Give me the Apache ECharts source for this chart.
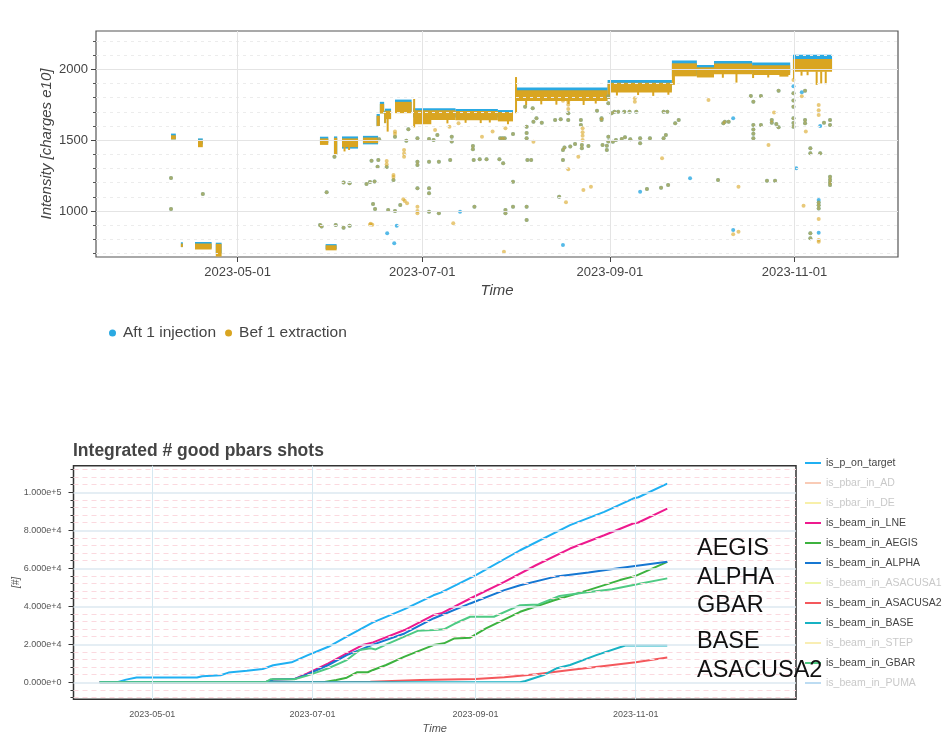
<!DOCTYPE html>
<html>
<head>
<meta charset="utf-8">
<script src="https://cdn.jsdelivr.net/npm/echarts@6/dist/echarts.min.js"></script>
<style>
  html, body { margin: 0; padding: 0; background: #fff; }
  #chart { width: 943px; height: 735px; }
</style>
</head>
<body>
<div id="chart"></div>
<script>
// ---------- Upper panel: beam intensity ----------
const intensityDateTicks = ['2023-05-01', '2023-07-01', '2023-09-01', '2023-11-01'];
const intensityTicks = [1000, 1500, 2000];
const intensityMinorTicks = [700, 800, 900, 1100, 1200, 1300, 1400, 1600, 1700, 1800, 1900, 2100, 2200];

// Dense running periods: [start, end, low, high]
const injectionBands = [
  ['2023-04-09', '2023-04-10 14:00', 1505, 1546],
  ['2023-04-12 06:00', '2023-04-12 18:00', 745, 779],
  ['2023-04-16 22:00', '2023-04-22 10:00', 735, 781],
  ['2023-04-23 19:00', '2023-04-25 17:00', 700, 776],
  ['2023-04-17 22:00', '2023-04-19 12:00', 1470, 1512],
  ['2023-05-28 05:00', '2023-05-30 23:00', 1480, 1524],
  ['2023-05-30 02:00', '2023-06-02 17:00', 730, 766],
  ['2023-06-01 20:00', '2023-06-02 22:00', 1400, 1526],
  ['2023-06-04 12:00', '2023-06-09 19:00', 1440, 1526],
  ['2023-06-11 10:00', '2023-06-16 10:00', 1470, 1530],
  ['2023-06-15 22:00', '2023-06-17', 1600, 1684],
  ['2023-06-17', '2023-06-18 10:00', 1690, 1770],
  ['2023-06-18 10:00', '2023-06-19', 1620, 1708],
  ['2023-06-18 17:00', '2023-06-20 17:00', 1650, 1722],
  ['2023-06-22', '2023-06-27 12:00', 1700, 1786],
  ['2023-06-28', '2023-07-12', 1660, 1724],
  ['2023-07-12', '2023-07-26', 1660, 1720],
  ['2023-07-26', '2023-07-31', 1650, 1712],
  ['2023-07-31 16:00', '2023-08-31 06:00', 1790, 1872],
  ['2023-08-31 06:00', '2023-09-21 12:00', 1850, 1924],
  ['2023-09-21 12:00', '2023-09-29 18:00', 1960, 2062],
  ['2023-09-29 18:00', '2023-10-05 10:00', 1950, 2030],
  ['2023-10-05 10:00', '2023-10-18', 1980, 2058],
  ['2023-10-18', '2023-10-30 14:00', 1975, 2048],
  ['2023-10-31 12:00', '2023-11-13 10:00', 2000, 2102]
];

const extractionBands = [
  ['2023-04-09', '2023-04-10 14:00', 1505, 1534],
  ['2023-04-12 06:00', '2023-04-12 18:00', 745, 770],
  ['2023-04-16 22:00', '2023-04-22 10:00', 728, 770],
  ['2023-04-23 19:00', '2023-04-25 17:00', 678, 768],
  ['2023-04-17 22:00', '2023-04-19 12:00', 1450, 1502],
  ['2023-05-28 05:00', '2023-05-30 23:00', 1466, 1512],
  ['2023-05-30 02:00', '2023-06-02 17:00', 722, 758],
  ['2023-06-01 20:00', '2023-06-02 22:00', 1395, 1516],
  ['2023-06-04 12:00', '2023-06-09 19:00', 1450, 1512],
  ['2023-06-11 10:00', '2023-06-16 10:00', 1478, 1518],
  ['2023-06-15 22:00', '2023-06-17', 1600, 1672],
  ['2023-06-17', '2023-06-18 10:00', 1688, 1756],
  ['2023-06-18 10:00', '2023-06-19', 1620, 1694],
  ['2023-06-18 17:00', '2023-06-20 17:00', 1648, 1708],
  ['2023-06-22', '2023-06-27 12:00', 1690, 1770],
  ['2023-06-28', '2023-06-28 12:00', 1590, 1790],
  ['2023-06-28 12:00', '2023-07-12', 1642, 1710],
  ['2023-07-12', '2023-07-26', 1640, 1706],
  ['2023-07-26', '2023-07-31', 1632, 1698],
  ['2023-07-31 16:00', '2023-08-31 06:00', 1776, 1852],
  ['2023-07-31 16:00', '2023-08-01', 1690, 1945],
  ['2023-08-31 06:00', '2023-09-21 12:00', 1836, 1904],
  ['2023-09-21 12:00', '2023-09-29 18:00', 1950, 2042],
  ['2023-09-29 18:00', '2023-10-05 10:00', 1942, 2014],
  ['2023-10-05 10:00', '2023-10-18', 1964, 2040],
  ['2023-10-18', '2023-10-30 14:00', 1960, 2028],
  ['2023-10-31 12:00', '2023-11-13 10:00', 1982, 2072],
  // short dips below the running level
  ['2023-06-05', '2023-06-05 10:00', 1420, 1460],
  ['2023-06-06 12:00', '2023-06-06 20:00', 1430, 1460],
  ['2023-06-19 06:00', '2023-06-19 18:00', 1560, 1650],
  ['2023-06-28 12:00', '2023-07-04', 1612, 1660],
  ['2023-07-09', '2023-07-09 08:00', 1618, 1650],
  ['2023-07-15', '2023-07-15 08:00', 1622, 1650],
  ['2023-07-20', '2023-07-20 08:00', 1620, 1650],
  ['2023-07-23', '2023-07-23 08:00', 1624, 1650],
  ['2023-07-29', '2023-07-29 08:00', 1612, 1640],
  ['2023-08-04', '2023-08-04 08:00', 1745, 1785],
  ['2023-08-09', '2023-08-09 08:00', 1752, 1785],
  ['2023-08-14', '2023-08-14 08:00', 1750, 1785],
  ['2023-08-18', '2023-08-18 08:00', 1755, 1785],
  ['2023-08-23', '2023-08-23 08:00', 1748, 1785],
  ['2023-08-27', '2023-08-27 08:00', 1758, 1785],
  ['2023-08-31 06:00', '2023-09-01 06:00', 1790, 1846],
  ['2023-09-03', '2023-09-03 08:00', 1815, 1840],
  ['2023-09-10', '2023-09-10 08:00', 1818, 1840],
  ['2023-09-15', '2023-09-15 08:00', 1812, 1840],
  ['2023-09-20', '2023-09-20 08:00', 1820, 1840],
  ['2023-09-21 12:00', '2023-09-22 12:00', 1890, 1958],
  ['2023-10-08', '2023-10-08 08:00', 1940, 1968],
  ['2023-10-12 12:00', '2023-10-12 22:00', 1906, 1970],
  ['2023-10-18', '2023-10-18 08:00', 1938, 1965],
  ['2023-10-23', '2023-10-23 08:00', 1942, 1965],
  ['2023-10-27', '2023-10-30', 1948, 1965],
  ['2023-10-31 12:00', '2023-11-01', 1930, 1990],
  ['2023-11-03', '2023-11-03 08:00', 1955, 1985],
  ['2023-11-05', '2023-11-05 08:00', 1958, 1985],
  ['2023-11-08', '2023-11-08 12:00', 1890, 1985],
  ['2023-11-09 12:00', '2023-11-10', 1900, 1985],
  ['2023-11-11', '2023-11-11 12:00', 1895, 1985]
];

// Isolated shots recorded by both monitors: [time, intensity]
const sharedShots = [
  ['2023-04-09', 1233], ['2023-04-09', 1013], ['2023-04-19 12:00', 1120],
  ['2023-05-28 06:00', 900], ['2023-05-28 18:00', 890], ['2023-05-30 10:00', 1132], ['2023-06-02 10:00', 901], ['2023-06-02', 1383],
  ['2023-06-05', 1200], ['2023-06-05', 882], ['2023-06-07', 1195], ['2023-06-07', 896],
  ['2023-06-12 14:00', 1190], ['2023-06-13 18:00', 1205], ['2023-06-15 06:00', 1208], ['2023-06-14 06:00', 1355], ['2023-06-14 18:00', 1049],
  ['2023-06-15 10:00', 1014], ['2023-06-16 06:00', 1312], ['2023-06-16 12:00', 1360], ['2023-06-16 18:00', 1506],
  ['2023-06-19 06:00', 1310], ['2023-06-19 18:00', 1007], ['2023-06-21 12:00', 1218], ['2023-06-22', 1524], ['2023-06-22', 1000],
  ['2023-06-23 18:00', 1042], ['2023-06-25 18:00', 1496], ['2023-06-26 10:00', 1576],
  ['2023-06-29 10:00', 1513], ['2023-06-29 10:00', 1325], ['2023-06-29 10:00', 1348], ['2023-06-29 10:00', 1160],
  ['2023-07-03 06:00', 1508], ['2023-07-03 06:00', 1348], ['2023-07-03 06:00', 1125], ['2023-07-03 06:00', 1160], ['2023-07-03 06:00', 995],
  ['2023-07-04 18:00', 1500], ['2023-07-06', 1536], ['2023-07-06 12:00', 1348], ['2023-07-06 12:00', 983],
  ['2023-07-10 18:00', 1490], ['2023-07-10 18:00', 1524], ['2023-07-10 06:00', 1360], ['2023-07-17 18:00', 1435], ['2023-07-17 18:00', 1459],
  ['2023-07-18', 1360], ['2023-07-18 06:00', 1030], ['2023-07-20', 1364], ['2023-07-22 06:00', 1364], ['2023-07-26 12:00', 1364],
  ['2023-07-26 18:00', 1513], ['2023-07-27 12:00', 1513], ['2023-07-28 06:00', 1513], ['2023-07-27 18:00', 1336],
  ['2023-07-28 12:00', 1007], ['2023-07-28 12:00', 983], ['2023-07-31', 1543], ['2023-07-31', 1206], ['2023-07-31', 1030],
  ['2023-08-04', 1736], ['2023-08-04 12:00', 1513], ['2023-08-04 12:00', 1550], ['2023-08-04 12:00', 1595], ['2023-08-04 18:00', 1360],
  ['2023-08-04 12:00', 1030], ['2023-08-04 12:00', 936], ['2023-08-06', 1360], ['2023-08-06 12:00', 1725], ['2023-08-06 18:00', 1630],
  ['2023-08-07 18:00', 1654], ['2023-08-09 12:00', 1623], ['2023-08-13 22:00', 1642], ['2023-08-15 18:00', 1647], ['2023-08-18 06:00', 1690],
  ['2023-08-18 06:00', 1642], ['2023-08-16 12:00', 1430], ['2023-08-17', 1447], ['2023-08-18 22:00', 1454], ['2023-08-20 12:00', 1473],
  ['2023-08-22 10:00', 1607], ['2023-08-22 10:00', 1642], ['2023-08-22 18:00', 1442], ['2023-08-22 18:00', 1466], ['2023-08-24 22:00', 1459],
  ['2023-08-16 12:00', 1360], ['2023-08-15 06:00', 1100], ['2023-08-27 18:00', 1708], ['2023-08-29 06:00', 1642], ['2023-08-29 06:00', 1654],
  ['2023-08-29 14:00', 1466],
  ['2023-08-31', 1430], ['2023-08-31', 1460], ['2023-08-31 12:00', 1490], ['2023-08-31 12:00', 1524], ['2023-08-31 12:00', 1760],
  ['2023-08-31 12:00', 1807], ['2023-09-01 14:00', 1690], ['2023-09-02 12:00', 1700], ['2023-09-03 18:00', 1700], ['2023-09-05 18:00', 1700],
  ['2023-09-07 12:00', 1700], ['2023-09-09 18:00', 1700], ['2023-09-02', 1489], ['2023-09-03', 1500], ['2023-09-04 22:00', 1508],
  ['2023-09-06', 1520], ['2023-09-07 18:00', 1506], ['2023-09-11', 1478], ['2023-09-11', 1513], ['2023-09-14 06:00', 1513],
  ['2023-09-13 06:00', 1155], ['2023-09-17 22:00', 1164], ['2023-09-20 06:00', 1183], ['2023-09-18 18:00', 1513], ['2023-09-19 12:00', 1536],
  ['2023-09-18 18:00', 1700], ['2023-09-20', 1700], ['2023-09-22 14:00', 1619], ['2023-09-23 18:00', 1642],
  ['2023-10-06 18:00', 1218], ['2023-10-08 12:00', 1619], ['2023-10-09', 1630], ['2023-10-10 06:00', 1630], ['2023-10-17 14:00', 1811],
  ['2023-10-18 10:00', 1771], ['2023-10-20 22:00', 1811], ['2023-10-18 10:00', 1513], ['2023-10-18 10:00', 1545], ['2023-10-18 10:00', 1575],
  ['2023-10-18 10:00', 1607], ['2023-10-20 22:00', 1607], ['2023-10-22 22:00', 1214], ['2023-10-25 14:00', 1214], ['2023-10-24 12:00', 1623],
  ['2023-10-24 12:00', 1642], ['2023-10-26', 1614], ['2023-10-26 18:00', 1590], ['2023-10-26 18:00', 1849],
  ['2023-10-31 16:00', 1736], ['2023-10-31 16:00', 1780], ['2023-10-31 16:00', 1830], ['2023-10-31 16:00', 1595], ['2023-10-31 16:00', 1620],
  ['2023-10-31 16:00', 1654], ['2023-11-04 12:00', 1849], ['2023-11-04 12:00', 1619], ['2023-11-04 12:00', 1642], ['2023-11-06 06:00', 1407],
  ['2023-11-06 06:00', 1442], ['2023-11-06 06:00', 807], ['2023-11-06 06:00', 843], ['2023-11-09 12:00', 1407], ['2023-11-09', 1018],
  ['2023-11-09', 1040], ['2023-11-09', 1060], ['2023-11-10 18:00', 1623], ['2023-11-12 18:00', 1607], ['2023-11-12 18:00', 1642],
  ['2023-11-12 18:00', 1183], ['2023-11-12 18:00', 1200], ['2023-11-12 18:00', 1220], ['2023-11-12 18:00', 1242]
];

const injectionOnlyShots = [
  ['2023-06-19 10:00', 842], ['2023-06-21 18:00', 772], ['2023-06-22 14:00', 896], ['2023-07-13 12:00', 995], ['2023-08-16 12:00', 760],
  ['2023-09-11', 1136], ['2023-09-27 12:00', 1230], ['2023-10-11 18:00', 1654], ['2023-10-11 18:00', 866], ['2023-10-31 16:00', 1880],
  ['2023-11-01 14:00', 1301], ['2023-11-03 10:00', 1838], ['2023-11-09 12:00', 1600], ['2023-11-09', 1077], ['2023-11-09', 847]
];

const extractionOnlyShots = [
  ['2023-06-13 18:00', 905], ['2023-06-14', 910], ['2023-06-14 12:00', 902], ['2023-06-19 06:00', 1330], ['2023-06-19 06:00', 1352],
  ['2023-06-21 12:00', 1240], ['2023-06-21 12:00', 1254], ['2023-06-22', 1545], ['2023-06-22', 1560], ['2023-06-24 18:00', 1082],
  ['2023-06-25 06:00', 1070], ['2023-06-26', 1054], ['2023-06-25', 1430], ['2023-06-25', 1405], ['2023-06-25', 1383],
  ['2023-06-29 10:00', 983], ['2023-06-29 10:00', 1000], ['2023-06-29 10:00', 1030], ['2023-07-05 06:00', 1571], ['2023-07-10', 1595],
  ['2023-07-11 06:00', 913], ['2023-07-13', 1619], ['2023-07-20 18:00', 1524], ['2023-07-24 06:00', 1560], ['2023-07-28 12:00', 1583],
  ['2023-07-28', 712], ['2023-08-06 18:00', 1489], ['2023-08-16 12:00', 1778], ['2023-08-18 06:00', 1720], ['2023-08-18 06:00', 1750],
  ['2023-08-18 06:00', 1771], ['2023-08-23', 1500], ['2023-08-23', 1530], ['2023-08-23', 1555], ['2023-08-23', 1583],
  ['2023-08-23 06:00', 1148], ['2023-08-25 18:00', 1171], ['2023-08-21 14:00', 1383], ['2023-08-17 12:00', 1061], ['2023-08-18 06:00', 1294],
  ['2023-09-09 06:00', 1771], ['2023-09-09 06:00', 1795], ['2023-09-18 06:00', 1372], ['2023-10-03 14:00', 1783], ['2023-10-13 12:00', 1171],
  ['2023-10-11 18:00', 835], ['2023-10-13 12:00', 853], ['2023-10-23 10:00', 1466], ['2023-10-25 06:00', 1694], ['2023-10-31 16:00', 1924],
  ['2023-11-03 10:00', 1810], ['2023-11-04 18:00', 1560], ['2023-11-04', 1037], ['2023-11-09', 1677], ['2023-11-09', 1710],
  ['2023-11-09', 1748], ['2023-11-09', 943], ['2023-11-09', 783], ['2023-11-09', 795]
];

// ---------- Lower panel: integrated good shots ----------
const shotDateTicks = ['2023-05-01', '2023-07-01', '2023-09-01', '2023-11-01'];
const shotTicks = [0, 20000, 40000, 60000, 80000, 100000];
const shotMinorTicks = [-8000, -4000, 4000, 8000, 12000, 16000, 24000, 28000, 32000, 36000, 44000, 48000, 52000, 56000,
  64000, 68000, 72000, 76000, 84000, 88000, 92000, 96000, 104000, 108000, 112000];

const shotSeriesNames = ['is_p_on_target', 'is_pbar_in_AD', 'is_pbar_in_DE', 'is_beam_in_LNE', 'is_beam_in_AEGIS',
  'is_beam_in_ALPHA', 'is_beam_in_ASACUSA1', 'is_beam_in_ASACUSA2', 'is_beam_in_BASE', 'is_beam_in_STEP',
  'is_beam_in_GBAR', 'is_beam_in_PUMA'];
const hiddenSeries = ['is_pbar_in_AD', 'is_pbar_in_DE', 'is_beam_in_ASACUSA1', 'is_beam_in_STEP', 'is_beam_in_PUMA'];

const pOnTarget = [['2023-04-11', 0], ['2023-04-18', 200], ['2023-04-21', 1400], ['2023-04-25', 2500], ['2023-05-18', 2500],
  ['2023-05-20', 3200], ['2023-05-27', 3700], ['2023-05-30', 5100], ['2023-06-06', 6100], ['2023-06-12', 7000], ['2023-06-16', 9000],
  ['2023-06-23', 10500], ['2023-06-29', 14200], ['2023-07-07', 18700], ['2023-07-14', 24000], ['2023-07-24', 31500],
  ['2023-08-05', 38500], ['2023-08-16', 45800], ['2023-08-19', 47300], ['2023-09-01', 56300], ['2023-09-18', 69500],
  ['2023-10-07', 82700], ['2023-10-20', 89700], ['2023-10-31', 96700], ['2023-11-02', 97400], ['2023-11-13', 104600]];
const beamLNE = [['2023-04-11', 0], ['2023-06-13', 0], ['2023-06-16', 1500], ['2023-06-24', 1700], ['2023-06-29', 4700],
  ['2023-07-07', 10000], ['2023-07-14', 15200], ['2023-07-20', 19600], ['2023-07-24', 21000], ['2023-08-05', 27500],
  ['2023-08-16', 35400], ['2023-08-19', 36300], ['2023-08-30', 44100], ['2023-09-12', 52900], ['2023-09-24', 61600],
  ['2023-10-07', 70400], ['2023-10-20', 77400], ['2023-10-31', 83600], ['2023-11-02', 84100], ['2023-11-13', 91400]];
const beamAEGIS = [['2023-04-11', 0], ['2023-07-05', 0], ['2023-07-10', 1200], ['2023-07-14', 2400], ['2023-07-18', 5300],
  ['2023-07-22', 5300], ['2023-07-24', 6500], ['2023-07-29', 9100], ['2023-08-05', 13500], ['2023-08-16', 19600],
  ['2023-08-20', 20500], ['2023-08-24', 23100], ['2023-08-30', 23500], ['2023-09-05', 28400], ['2023-09-18', 37100],
  ['2023-10-01', 43200], ['2023-10-14', 48500], ['2023-10-26', 53800], ['2023-11-01', 56000], ['2023-11-13', 63400]];
const beamALPHA = [['2023-04-11', 0], ['2023-06-13', 0], ['2023-06-16', 1500], ['2023-06-24', 1700], ['2023-06-29', 4200],
  ['2023-07-07', 9100], ['2023-07-14', 14300], ['2023-07-24', 19800], ['2023-08-05', 25700], ['2023-08-16', 33600],
  ['2023-08-30', 41500], ['2023-09-12', 48500], ['2023-09-18', 51100], ['2023-10-01', 55500], ['2023-10-14', 57800],
  ['2023-10-26', 60200], ['2023-11-13', 63400]];
const beamASACUSA2 = [['2023-04-11', 0], ['2023-07-12', 0], ['2023-07-23', 300], ['2023-08-11', 1200], ['2023-09-01', 1700],
  ['2023-09-12', 2600], ['2023-09-24', 4200], ['2023-10-07', 6500], ['2023-10-20', 8600], ['2023-11-01', 10500], ['2023-11-13', 13100]];
const beamBASE = [['2023-04-11', 0], ['2023-09-18', 0], ['2023-09-20', 700], ['2023-09-27', 3800], ['2023-10-02', 7400],
  ['2023-10-07', 9100], ['2023-10-17', 14300], ['2023-10-28', 19400], ['2023-11-13', 19400]];
const beamGBAR = [['2023-04-11', 0], ['2023-06-13', 0], ['2023-06-15', 1600], ['2023-06-24', 1600], ['2023-06-29', 3500],
  ['2023-07-07', 7400], ['2023-07-14', 11700], ['2023-07-19', 17000], ['2023-07-23', 17900], ['2023-07-25', 17300],
  ['2023-07-30', 20500], ['2023-08-10', 27100], ['2023-08-16', 27500], ['2023-08-20', 27900], ['2023-08-24', 30800],
  ['2023-08-30', 34500], ['2023-09-08', 34500], ['2023-09-18', 40600], ['2023-09-25', 41000], ['2023-10-03', 45400],
  ['2023-10-12', 47100], ['2023-10-23', 49000], ['2023-11-02', 51700], ['2023-11-13', 54700]];

const experimentLabels = ['AEGIS', 'ALPHA', 'GBAR', 'BASE', 'ASACUSA2'];

// ---------- build ----------
const FONT = '"Liberation Sans", Arial, Helvetica, sans-serif';
const T = s => echarts.time.parse(s);
const fmtDate = v => echarts.time.format(v, '{yyyy}-{MM}-{dd}', false);
const toPoints = rows => rows.map(r => [T(r[0]), r[1]]);
const toBands = rows => rows.map(r => [T(r[0]), T(r[1]), r[2], r[3]]);

const shotValues = {
  is_p_on_target: pOnTarget, is_beam_in_LNE: beamLNE, is_beam_in_AEGIS: beamAEGIS, is_beam_in_ALPHA: beamALPHA,
  is_beam_in_ASACUSA2: beamASACUSA2, is_beam_in_BASE: beamBASE, is_beam_in_GBAR: beamGBAR
};
const shotColors = {
  is_p_on_target: '#20b0f2', is_pbar_in_AD: '#f9cbb6', is_pbar_in_DE: '#f8f0aa', is_beam_in_LNE: '#ee1a8e',
  is_beam_in_AEGIS: '#3db23f', is_beam_in_ALPHA: '#1677d2', is_beam_in_ASACUSA1: '#eef7aa', is_beam_in_ASACUSA2: '#f4585c',
  is_beam_in_BASE: '#17b2c3', is_beam_in_STEP: '#f9eeb4', is_beam_in_GBAR: '#4fca84', is_beam_in_PUMA: '#bddcf2'
};

function renderBand(params, api) {
  const p0 = api.coord([api.value(0), api.value(3)]);
  const p1 = api.coord([api.value(1), api.value(2)]);
  return {
    type: 'rect',
    shape: { x: p0[0], y: p0[1], width: Math.max(p1[0] - p0[0], 2), height: Math.max(p1[1] - p0[1], 1.5) },
    style: { fill: api.visual('color') }
  };
}
const bandDims = ['start', 'end', 'low', 'high'];

const BLUE = '#2aa9e2', GOLD = '#d9a521';

const topGridLines = []
  .concat(intensityTicks.map(v => ({ yAxis: v, lineStyle: { color: '#e4e4e4', width: 1, type: 'solid' } })))
  .concat(intensityMinorTicks.map(v => ({ yAxis: v, lineStyle: { color: '#ececec', width: 1, type: [3, 4] } })))
  .concat(intensityDateTicks.map(d => ({ xAxis: T(d), lineStyle: { color: '#e4e4e4', width: 1, type: 'solid' } })));

const bottomGridLines = []
  .concat(shotMinorTicks.map(v => ({ yAxis: v, lineStyle: { color: '#fbd9df', width: 1, type: [5, 4] } })))
  .concat(shotTicks.map(v => ({ yAxis: v, lineStyle: { color: '#dce8f1', width: 1.5, type: 'solid' } })))
  .concat(shotDateTicks.map(d => ({ xAxis: T(d), lineStyle: { color: '#d6e8f1', width: 1, type: 'solid' } })));

const gridLineSeries = (xi, yi, lines) => ({
  type: 'line', xAxisIndex: xi, yAxisIndex: yi, data: [], silent: true, animation: false,
  markLine: { silent: true, symbol: ['none', 'none'], label: { show: false }, animation: false, data: lines }
});

const lineSeries = shotSeriesNames.map(name => ({
  name, type: 'line', xAxisIndex: 1, yAxisIndex: 2, showSymbol: false, animation: false,
  color: shotColors[name], lineStyle: { width: 2, color: shotColors[name] },
  data: toPoints(shotValues[name] || [])
}));

const option = {
  backgroundColor: '#fff',
  animation: false,
  textStyle: { fontFamily: FONT },
  title: {
    text: 'Integrated # good pbars shots', left: 73, top: 442, padding: 0,
    textStyle: { fontSize: 17.5, fontWeight: 'bold', color: '#444', fontFamily: FONT }
  },
  grid: [
    { left: 96, top: 31, width: 802, height: 226, outerBoundsMode: 'none', containLabel: false,
      show: true, borderColor: '#555', borderWidth: 1.2, backgroundColor: 'transparent' },
    { left: 73.5, top: 465.7, width: 722.5, height: 233.6, outerBoundsMode: 'none', containLabel: false,
      show: true, borderColor: '#333', borderWidth: 1.5, backgroundColor: 'transparent' }
  ],
  xAxis: [
    {
      type: 'value', gridIndex: 0, position: 'bottom', min: T('2023-03-15 05:00'), max: T('2023-12-05 05:00'),
      axisLine: { show: false }, splitLine: { show: false },
      axisTick: { show: true, length: 5, customValues: intensityDateTicks.map(T), lineStyle: { color: '#444' } },
      axisLabel: { customValues: intensityDateTicks.map(T), formatter: fmtDate, fontSize: 13, color: '#444', margin: 9, fontFamily: FONT },
      name: 'Time', nameLocation: 'middle', nameGap: 26, nameMoveOverlap: false,
      nameTextStyle: { fontSize: 15, fontStyle: 'italic', color: '#444', fontFamily: FONT }
    },
    {
      type: 'value', gridIndex: 1, position: 'bottom', min: T('2023-04-01'), max: T('2024-01-01'),
      axisLine: { show: false }, splitLine: { show: false },
      axisTick: { show: true, length: 5, customValues: shotDateTicks.map(T), lineStyle: { color: '#333' } },
      axisLabel: { customValues: shotDateTicks.map(T), formatter: fmtDate, fontSize: 9, color: '#555', margin: 11, fontFamily: FONT },
      name: 'Time', nameLocation: 'middle', nameGap: 24, nameMoveOverlap: false,
      nameTextStyle: { fontSize: 11, fontStyle: 'italic', color: '#555', fontFamily: FONT }
    }
  ],
  yAxis: [
    {
      type: 'value', gridIndex: 0, position: 'left', min: 675, max: 2270,
      axisLine: { show: false }, splitLine: { show: false },
      axisTick: { show: true, length: 5, customValues: intensityTicks, lineStyle: { color: '#444' } },
      axisLabel: { customValues: intensityTicks, formatter: v => String(v), fontSize: 13, color: '#444', margin: 8, fontFamily: FONT },
      name: 'Intensity [charges e10]', nameLocation: 'middle', nameGap: 42, nameMoveOverlap: false,
      nameTextStyle: { fontSize: 15, fontStyle: 'italic', color: '#444', fontFamily: FONT }
    },
    {
      type: 'value', gridIndex: 0, position: 'left', min: 675, max: 2270,
      axisLine: { show: false }, splitLine: { show: false }, axisLabel: { show: false },
      axisTick: { show: true, length: 3, customValues: intensityMinorTicks, lineStyle: { color: '#555' } }
    },
    {
      type: 'value', gridIndex: 1, position: 'left', min: -8950, max: 114000,
      axisLine: { show: false }, splitLine: { show: false },
      axisTick: { show: true, length: 5, customValues: shotTicks, lineStyle: { color: '#333' } },
      axisLabel: { customValues: shotTicks, formatter: v => Number(v).toExponential(3), fontSize: 9, color: '#555', margin: 12, fontFamily: FONT },
      name: '[#]', nameLocation: 'middle', nameGap: 52, nameMoveOverlap: false,
      nameTextStyle: { fontSize: 10, fontStyle: 'italic', color: '#555', fontFamily: FONT }
    },
    {
      type: 'value', gridIndex: 1, position: 'left', min: -8950, max: 114000,
      axisLine: { show: false }, splitLine: { show: false }, axisLabel: { show: false },
      axisTick: { show: true, length: 3, customValues: shotMinorTicks, lineStyle: { color: '#333' } }
    }
  ],
  legend: [
    {
      left: 109, top: 324, padding: 0, icon: 'circle', itemWidth: 11, itemHeight: 7, itemGap: 9, selectedMode: false,
      textStyle: { fontSize: 15.5, color: '#444', lineHeight: 18, fontFamily: FONT },
      data: ['Aft 1 injection', 'Bef 1 extraction']
    },
    {
      orient: 'vertical', left: 805, top: 456, padding: 0, icon: 'rect', itemWidth: 16, itemHeight: 2, itemGap: 6, selectedMode: false,
      textStyle: { fontSize: 10.5, color: '#444', lineHeight: 14, fontFamily: FONT },
      data: shotSeriesNames.map(n => hiddenSeries.includes(n)
        ? { name: n, textStyle: { color: '#c9c9c9' } }
        : { name: n })
    }
  ],
  graphic: experimentLabels.map((t, i) => ({
    type: 'text', z: 100, x: 697, y: [549, 578, 606, 642, 671][i],
    style: { text: t, fontSize: 23.5, fill: '#111', fontFamily: FONT, verticalAlign: 'middle', align: 'left' }
  })),
  series: [
    gridLineSeries(0, 0, topGridLines),
    gridLineSeries(1, 2, bottomGridLines),
    {
      name: 'Aft 1 injection', type: 'custom', xAxisIndex: 0, yAxisIndex: 0, renderItem: renderBand,
      dimensions: bandDims, encode: { x: ['start', 'end'], y: ['low', 'high'] },
      itemStyle: { color: BLUE }, data: toBands(injectionBands), clip: true, silent: true
    },
    {
      name: 'Aft 1 injection', type: 'scatter', xAxisIndex: 0, yAxisIndex: 0, symbolSize: 4,
      itemStyle: { color: BLUE }, data: toPoints(sharedShots.concat(injectionOnlyShots)), silent: true
    },
    {
      name: 'Bef 1 extraction', type: 'custom', xAxisIndex: 0, yAxisIndex: 0, renderItem: renderBand,
      dimensions: bandDims, encode: { x: ['start', 'end'], y: ['low', 'high'] },
      itemStyle: { color: GOLD }, data: toBands(extractionBands), clip: true, silent: true
    },
    {
      name: 'Bef 1 extraction', type: 'scatter', xAxisIndex: 0, yAxisIndex: 0, symbolSize: 4,
      itemStyle: { color: GOLD, opacity: 0.6 }, data: toPoints(sharedShots.concat(extractionOnlyShots)), silent: true
    }
  ].concat(lineSeries)
};

const chart = echarts.init(document.getElementById('chart'));
chart.setOption(option);
</script>
</body>
</html>
